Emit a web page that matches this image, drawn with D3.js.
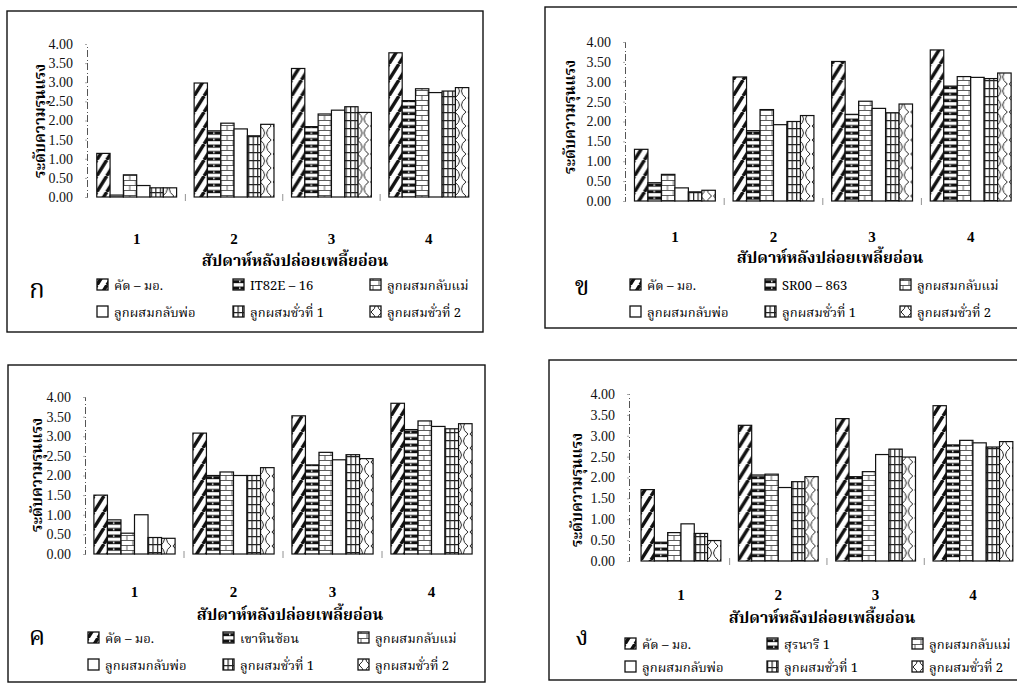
<!DOCTYPE html>
<html>
<head>
<meta charset="utf-8">
<script src="https://cdn.jsdelivr.net/npm/d3@7"></script>
<style>
  body { margin: 0; background: #fff; }
  svg { display: block; }
  .tick-text { font-family: "Liberation Serif", serif; font-size: 14px; }
  .cat-text { font-family: "Liberation Serif", serif; font-size: 15px; font-weight: bold; }
  .thai { font-family: "Noto Serif Thai", "Noto Sans Thai", "Norasi", "Loma", sans-serif; }
</style>
</head>
<body>
<script>
// week groups on the x axis
const weeks = ["1", "2", "3", "4"];
const yTicks = [0, 0.5, 1, 1.5, 2, 2.5, 3, 3.5, 4];
const xTitle = "สัปดาห์หลังปล่อยเพลี้ยอ่อน";
const yTitle = "ระดับความรุนแรง";

const seriesKa = ["คัด – มอ.", "IT82E – 16", "ลูกผสมกลับแม่", "ลูกผสมกลับพ่อ", "ลูกผสมชั่วที่ 1", "ลูกผสมชั่วที่ 2"];
const seriesKho = ["คัด – มอ.", "SR00 – 863", "ลูกผสมกลับแม่", "ลูกผสมกลับพ่อ", "ลูกผสมชั่วที่ 1", "ลูกผสมชั่วที่ 2"];
const seriesKho2 = ["คัด – มอ.", "เขาหินซ้อน", "ลูกผสมกลับแม่", "ลูกผสมกลับพ่อ", "ลูกผสมชั่วที่ 1", "ลูกผสมชั่วที่ 2"];
const seriesNgo = ["คัด – มอ.", "สุรนารี 1", "ลูกผสมกลับแม่", "ลูกผสมกลับพ่อ", "ลูกผสมชั่วที่ 1", "ลูกผสมชั่วที่ 2"];

// one row per week, one value per series
const valuesKa = [
  [1.14, 0.05, 0.58, 0.30, 0.24, 0.24],
  [2.98, 1.73, 1.93, 1.78, 1.60, 1.90],
  [3.36, 1.84, 2.17, 2.27, 2.36, 2.21],
  [3.77, 2.52, 2.83, 2.73, 2.77, 2.86]
];
const valuesKho = [
  [1.30, 0.46, 0.67, 0.33, 0.23, 0.27],
  [3.12, 1.77, 2.30, 1.92, 2.00, 2.15],
  [3.51, 2.18, 2.51, 2.33, 2.22, 2.44],
  [3.80, 2.89, 3.13, 3.11, 3.08, 3.22]
];
const valuesKho2 = [
  [1.50, 0.87, 0.53, 1.00, 0.42, 0.40],
  [3.08, 2.00, 2.09, 2.00, 2.00, 2.20],
  [3.52, 2.27, 2.59, 2.40, 2.53, 2.43],
  [3.84, 3.17, 3.39, 3.25, 3.19, 3.32]
];
const valuesNgo = [
  [1.71, 0.45, 0.68, 0.89, 0.66, 0.49],
  [3.25, 2.06, 2.08, 1.76, 1.90, 2.02],
  [3.41, 2.02, 2.14, 2.55, 2.68, 2.49],
  [3.72, 2.78, 2.89, 2.83, 2.73, 2.86]
];

const patternIds = ["p-diag", "p-hbar", "p-brick", "p-plain", "p-grid", "p-scale"];

const svg = d3.select("body").append("svg").attr("width", 1017).attr("height", 683);
const defs = svg.append("defs");

function makePattern(id, w, h, draw) {
  const p = defs.append("pattern")
    .attr("id", id)
    .attr("patternUnits", "userSpaceOnUse")
    .attr("width", w)
    .attr("height", h);
  p.append("rect").attr("width", w).attr("height", h).attr("fill", "#fff");
  draw(p);
}

makePattern("p-diag", 10, 16, (p) => {
  p.append("path")
    .attr("d", "M-10,16L0,0M0,16L10,0M10,16L20,0")
    .attr("stroke", "#111").attr("stroke-width", 3.4);
});
makePattern("p-hbar", 13, 6.5, (p) => {
  p.append("rect").attr("x", 0).attr("y", 1.5).attr("width", 13).attr("height", 3.2).attr("fill", "#111");
  p.append("rect").attr("x", 6).attr("y", 2.4).attr("width", 1.5).attr("height", 1.4).attr("fill", "#fff");
});
makePattern("p-brick", 12, 10, (p) => {
  p.append("path")
    .attr("d", "M0,0.5H12M0,5.5H12M3,0.5V5.5M9,5.5V10")
    .attr("stroke", "#333").attr("stroke-width", 0.8).attr("fill", "none");
});
makePattern("p-plain", 8, 8, () => {});
makePattern("p-grid", 4.5, 8, (p) => {
  p.append("path")
    .attr("d", "M0.6,0V8M0,0.6H4.5")
    .attr("stroke", "#222").attr("stroke-width", 1.2).attr("fill", "none");
});
makePattern("p-scale", 13, 14, (p) => {
  p.append("path")
    .attr("d", "M1,0Q10,7 1,14M12,0Q3,7 12,14")
    .attr("stroke", "#222").attr("stroke-width", 1).attr("fill", "none");
});

function drawPanel(cfg) {
  const g = svg.append("g");

  g.append("rect")
    .attr("x", cfg.box[0]).attr("y", cfg.box[1])
    .attr("width", cfg.box[2]).attr("height", cfg.box[3])
    .attr("fill", "none").attr("stroke", "#111").attr("stroke-width", 1.4);

  const y = d3.scaleLinear().domain([0, 4]).range([cfg.y0, cfg.y4]);
  const x0 = d3.scaleBand().domain(weeks).range(cfg.xRange)
    .paddingInner(0.18).paddingOuter(0.09);
  const x1 = d3.scaleBand().domain(d3.range(cfg.series.length)).range([0, x0.bandwidth()]);

  // y axis
  const yAxis = d3.axisLeft(y).tickValues(yTicks).tickFormat(d3.format(".2f")).tickSize(2).tickPadding(12);
  const ay = g.append("g").attr("transform", `translate(${cfg.axisX},0)`).call(yAxis);
  ay.select(".domain").attr("stroke", "#555").attr("stroke-dasharray", "7,2,1,3");
  ay.selectAll(".tick line").attr("stroke", "#aaa");
  ay.selectAll(".tick text").attr("class", "tick-text").attr("fill", "#111").attr("font-size", null);

  // little tick marks between weeks
  g.selectAll(".sep")
    .data(weeks.slice(1))
    .join("line")
    .attr("x1", (d) => x0(d) - x0.step() * 0.09)
    .attr("x2", (d) => x0(d) - x0.step() * 0.09)
    .attr("y1", cfg.y0 - 3).attr("y2", cfg.y0 + 4)
    .attr("stroke", "#777").attr("stroke-width", 0.8);

  // bars
  const grp = g.selectAll(".week")
    .data(cfg.values)
    .join("g")
    .attr("transform", (d, i) => `translate(${x0(weeks[i])},0)`);
  grp.selectAll("rect")
    .data((d) => d)
    .join("rect")
    .attr("x", (d, i) => x1(i))
    .attr("y", (d) => y(d))
    .attr("width", x1.bandwidth())
    .attr("height", (d) => y(0) - y(d))
    .attr("fill", (d, i) => `url(#${patternIds[i]})`)
    .attr("stroke", "#111").attr("stroke-width", 1.2);

  // week labels
  g.selectAll(".cat")
    .data(weeks)
    .join("text")
    .attr("class", "cat-text")
    .attr("x", (d) => x0(d) + x0.bandwidth() / 2)
    .attr("y", cfg.catY)
    .attr("text-anchor", "middle")
    .text((d) => d);

  g.append("text").attr("class", "thai")
    .attr("x", cfg.titleX).attr("y", cfg.titleY)
    .attr("text-anchor", "middle").attr("font-weight", "bold").attr("font-size", 16)
    .text(xTitle);

  g.append("text").attr("class", "thai")
    .attr("transform", `translate(${cfg.yTitle[0]},${cfg.yTitle[1]}) rotate(-90)`)
    .attr("text-anchor", "middle").attr("font-weight", "bold").attr("font-size", 15)
    .text(yTitle);

  g.append("text").attr("class", "thai")
    .attr("x", cfg.label[0]).attr("y", cfg.label[1])
    .attr("text-anchor", "middle").attr("font-size", 26)
    .text(cfg.name);

  // legend, 3 columns x 2 rows
  const leg = g.selectAll(".leg")
    .data(cfg.series)
    .join("g")
    .attr("transform", (d, i) => `translate(${cfg.legCols[i % 3]},${cfg.legRows[Math.floor(i / 3)]})`);
  leg.append("rect")
    .attr("x", 0).attr("y", -6).attr("width", 11).attr("height", 11)
    .attr("fill", (d, i) => `url(#${patternIds[i]})`)
    .attr("stroke", "#111").attr("stroke-width", 1.3);
  leg.append("text").attr("class", "thai")
    .attr("x", 17).attr("y", 0).attr("dy", "0.35em").attr("font-size", 13)
    .text((d) => d);
}

drawPanel({
  name: "ก", series: seriesKa, values: valuesKa,
  box: [7, 11, 476, 321], axisX: 87, y0: 197, y4: 44, xRange: [88, 477.5],
  catY: 244, titleX: 295, titleY: 266, yTitle: [45, 121], label: [37, 298],
  legRows: [285, 312], legCols: [97, 233, 370]
});
drawPanel({
  name: "ข", series: seriesKho, values: valuesKho,
  box: [545, 7, 490, 321], axisX: 625, y0: 201, y4: 42, xRange: [625.6, 1020],
  catY: 242, titleX: 830, titleY: 263, yTitle: [575, 117], label: [582, 295],
  legRows: [285, 312], legCols: [630, 765, 900]
});
drawPanel({
  name: "ค", series: seriesKho2, values: valuesKho2,
  box: [8, 365, 477, 317], axisX: 85, y0: 554, y4: 397, xRange: [85, 481],
  catY: 597, titleX: 290, titleY: 620, yTitle: [42, 475], label: [37, 645],
  legRows: [638, 665], legCols: [88, 223, 358]
});
drawPanel({
  name: "ง", series: seriesNgo, values: valuesNgo,
  box: [549, 360, 490, 320], axisX: 629, y0: 561, y4: 394, xRange: [632.3, 1021.6],
  catY: 600, titleX: 822, titleY: 623, yTitle: [582, 490], label: [582, 645],
  legRows: [644, 667], legCols: [625, 767, 912]
});
</script>
</body>
</html>
